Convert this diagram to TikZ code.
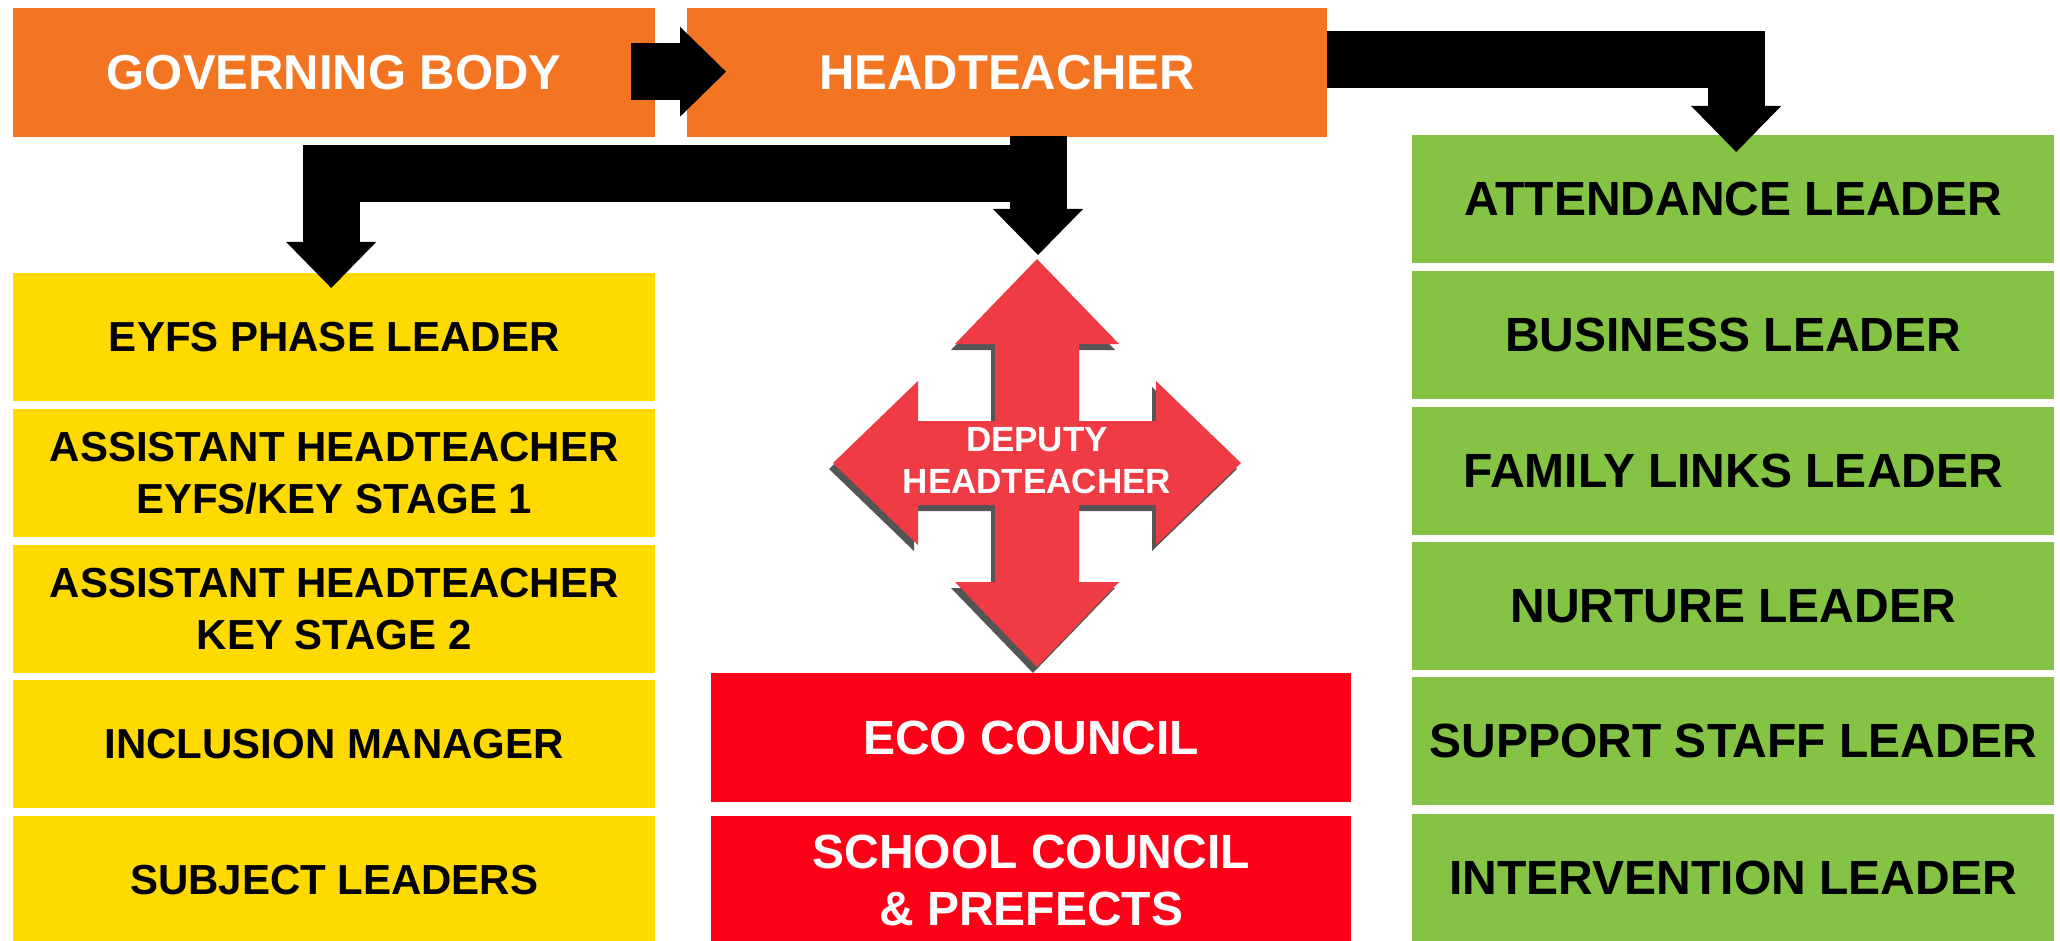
\documentclass[tikz,border=0pt]{standalone}
\usepackage{fontspec}
\setmainfont{Liberation Sans}
\usetikzlibrary{arrows.meta,calc}
\definecolor{orangebox}{HTML}{F47521}
\definecolor{yellowbox}{HTML}{FFDA00}
\definecolor{greenbox}{HTML}{84C343}
\definecolor{redbox}{HTML}{FF0019}
\definecolor{crossred}{HTML}{EE3B44}
\definecolor{crossshadow}{HTML}{555555}
\tikzset{
  box/.style={rectangle, inner sep=0pt, anchor=north west, minimum width=642pt, minimum height=128pt, align=center},
  topbox/.style={box, fill=orangebox, text=white, minimum height=129pt, font=\bfseries\fontsize{49}{58}\selectfont},
  ybox/.style={box, fill=yellowbox, text=black, font=\bfseries\fontsize{42}{52}\selectfont},
  gbox/.style={box, fill=greenbox, text=black, font=\bfseries\fontsize{48}{56}\selectfont},
  rbox/.style={box, fill=redbox, text=white, minimum width=640pt, font=\bfseries\fontsize{48}{57}\selectfont},
  blockarrow/.style={draw=black, line width=57pt, line join=miter, -{Triangle[width=90pt,length=46pt,line width=0pt]}},
}
\newcommand{\crossshape}{(0,-204) -- (82,-119) -- (42,-119) -- (42,-42) -- (119,-42) -- (119,-82) -- (204,0) -- (119,82) -- (119,42) -- (42,42) -- (42,119) -- (82,119) -- (0,204) -- (-82,119) -- (-42,119) -- (-42,42) -- (-119,42) -- (-119,82) -- (-204,0) -- (-119,-82) -- (-119,-42) -- (-42,-42) -- (-42,-119) -- (-82,-119) -- cycle}
\begin{document}
\begin{tikzpicture}[x=1pt,y=-1pt]
\useasboundingbox (0,0) rectangle (2060,941);
\fill[white] (0,0) rectangle (2060,941);

% top row
\node[topbox] (gb) at (13,8) {GOVERNING BODY};
\node[topbox, minimum width=640pt] (ht) at (687,8) {HEADTEACHER};

% yellow column
\node[ybox] (eyfs) at (13,273) {EYFS PHASE LEADER};
\node[ybox] (ah1) at (13,409) {ASSISTANT HEADTEACHER\\EYFS/KEY STAGE 1};
\node[ybox] (ah2) at (13,545) {ASSISTANT HEADTEACHER\\KEY STAGE 2};
\node[ybox] (inc) at (13,680) {INCLUSION MANAGER};
\node[ybox] (subj) at (13,816) {SUBJECT LEADERS};

% red column
\node[rbox, minimum height=129pt] (eco) at (711,673) {ECO COUNCIL};
\node[rbox] (sc) at (711,816) {SCHOOL COUNCIL\\\& PREFECTS};

% green column
\node[gbox] (att) at (1412,135) {ATTENDANCE LEADER};
\node[gbox] (bus) at (1412,271) {BUSINESS LEADER};
\node[gbox] (fam) at (1412,407) {FAMILY LINKS LEADER};
\node[gbox] (nur) at (1412,542) {NURTURE LEADER};
\node[gbox] (sup) at (1412,677) {SUPPORT STAFF LEADER};
\node[gbox] (int) at (1412,814) {INTERVENTION LEADER};

% deputy headteacher cross
\coordinate (dc) at (1037,463);
\fill[crossshadow, shift={($(dc)+(-4,6)$)}] \crossshape;
\fill[crossred, shift={(dc)}] \crossshape;
\node[text=white, align=center, font=\bfseries\fontsize{35}{42}\selectfont] (dep) at ($(dc)+(0,-2)$) {DEPUTY\\HEADTEACHER};

% connectors
\draw[blockarrow] ($(gb.east)+(-24,-1)$) -- ($(ht.west)+(39,-1)$);
\draw[blockarrow] ($(ht.south -| dc)+(1,-1)$) -- ($(dc)+(1,-208)$);
\draw[blockarrow] ($(ht.south -| dc)+(1,36)$) -| ($(eyfs.north)+(-3,15)$);
\draw[blockarrow] ($(ht.east)+(0,-13)$) -| ($(att.north)+(3,17)$);
\end{tikzpicture}
\end{document}
